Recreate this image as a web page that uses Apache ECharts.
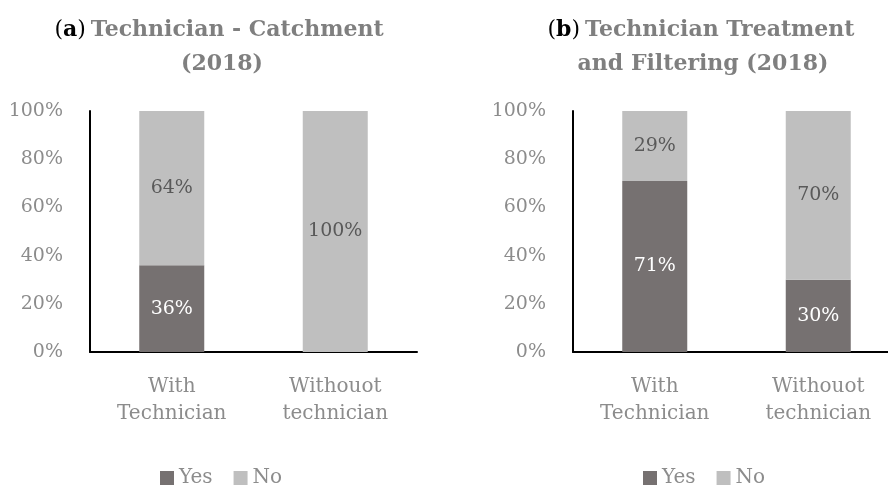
<!DOCTYPE html>
<html>
<head>
<meta charset="utf-8">
<script src="https://cdn.jsdelivr.net/npm/echarts@6/dist/echarts.min.js"></script>
<style>
  html, body { margin: 0; padding: 0; background: #fff; }
  #chart { width: 888px; height: 486px; }
</style>
</head>
<body>
<div id="chart"></div>
<script>
// categories
var categories = ['With\nTechnician', 'Withouot\ntechnician']
// (a) Technician - Catchment (2018)
var catchYes = [36, 0]
var catchNo = [64, 100]
// (b) Technician Treatment and Filtering (2018)
var treatYes = [71, 30]
var treatNo = [29, 70]
var legendNames = ['Yes', 'No']

var FONT = 'DejaVu Serif'
var GRAY = '#8c8c8c'
var DARK = '#767171'
var LIGHT = '#bfbfbf'

var chart = echarts.init(document.getElementById('chart'))

// 0% 的部分不显示标签
function pctLabel (color) {
  return {
    show: true,
    position: 'inside',
    color: color,
    fontFamily: FONT,
    fontSize: 19,
    formatter: function (p) { return p.value ? p.value + '%' : '' }
  }
}

function xAxisOf (idx) {
  return {
    type: 'category',
    gridIndex: idx,
    data: categories,
    axisLine: { show: true, lineStyle: { color: '#000', width: 2 } },
    axisTick: { show: false },
    axisLabel: { color: GRAY, fontFamily: FONT, fontSize: 20, lineHeight: 27, margin: 21 }
  }
}

function yAxisOf (idx) {
  return {
    type: 'value',
    gridIndex: idx,
    min: 0,
    max: 100,
    interval: 20,
    axisLine: { show: true, lineStyle: { color: '#000', width: 2 } },
    axisTick: { show: false },
    splitLine: { show: false },
    axisLabel: { color: GRAY, fontFamily: FONT, fontSize: 19, margin: 27, formatter: '{value}%' }
  }
}

function bar (name, idx, data, color, labelColor) {
  return {
    name: name,
    type: 'bar',
    stack: 'g' + idx,
    xAxisIndex: idx,
    yAxisIndex: idx,
    barWidth: 65,
    data: data,
    itemStyle: { color: color },
    label: pctLabel(labelColor)
  }
}

function legendAt (x) {
  return {
    data: legendNames,
    left: x,
    top: 463,
    itemWidth: 14,
    itemHeight: 14,
    itemGap: 21,
    icon: 'rect',
    textStyle: { color: GRAY, fontFamily: FONT, fontSize: 20 }
  }
}

var titleRich = {
  k: { color: '#000', fontFamily: FONT, fontSize: 22, fontWeight: 'normal' },
  a: { color: '#000', fontFamily: FONT, fontSize: 22, fontWeight: 'bold' },
  t: { color: '#7f7f7f', fontFamily: FONT, fontSize: 22, fontWeight: 'bold' }
}

chart.setOption({
  animation: false,
  title: [
    { text: '{k|(}{a|a}{k|)} {t|Technician - Catchment}', left: 214, top: 14, textAlign: 'center', textStyle: { rich: titleRich } },
    { text: '{t|(2018)}', left: 217, top: 48, textAlign: 'center', textStyle: { rich: titleRich } },
    { text: '{k|(}{a|b}{k|)} {t|Technician Treatment}', left: 696, top: 14, textAlign: 'center', textStyle: { rich: titleRich } },
    { text: '{t|and Filtering (2018)}', left: 698, top: 48, textAlign: 'center', textStyle: { rich: titleRich } }
  ],
  legend: [legendAt(155), legendAt(638)],
  grid: [
    { left: 90, top: 111, width: 327, height: 241, outerBoundsMode: 'none' },
    { left: 573, top: 111, width: 327, height: 241, outerBoundsMode: 'none' }
  ],
  xAxis: [xAxisOf(0), xAxisOf(1)],
  yAxis: [yAxisOf(0), yAxisOf(1)],
  series: [
    bar(legendNames[0], 0, catchYes, DARK, '#fff'),
    bar(legendNames[1], 0, catchNo, LIGHT, '#595959'),
    bar(legendNames[0], 1, treatYes, DARK, '#fff'),
    bar(legendNames[1], 1, treatNo, LIGHT, '#595959')
  ]
})
</script>
</body>
</html>
